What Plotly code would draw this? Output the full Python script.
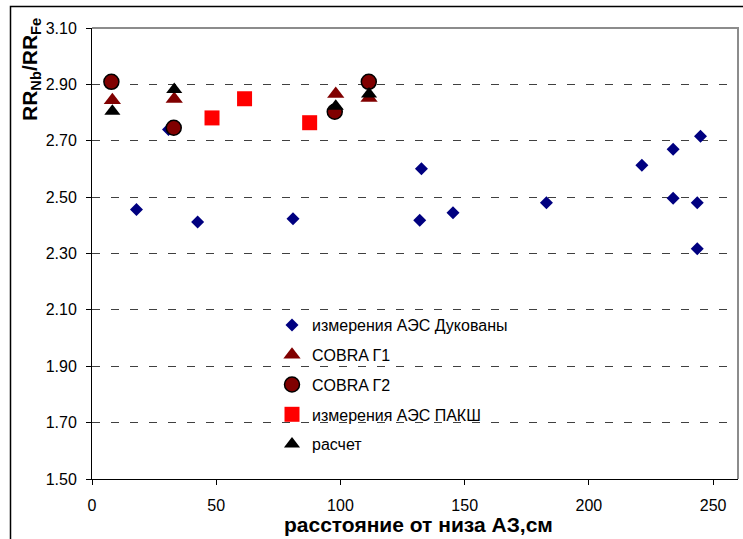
import plotly.graph_objects as go

# ---- data ----
duk_x = [17.9, 30.8, 42.5, 80.9, 132.6, 131.9, 145.3, 182.9, 221.3, 233.9, 244.9, 233.9, 243.6, 243.6]
duk_y = [2.456, 2.740, 2.412, 2.423, 2.601, 2.418, 2.445, 2.480, 2.613, 2.670, 2.716, 2.496, 2.480, 2.317]

g1_x = [8.2, 33.1, 98.1, 111.5]
g1_y = [2.844, 2.848, 2.866, 2.852]

g2_x = [7.8, 32.9, 97.7, 111.4]
g2_y = [2.909, 2.746, 2.803, 2.909]

paks_x = [48.3, 61.4, 87.6]
paks_y = [2.781, 2.849, 2.764]

calc_x = [8.2, 33.1, 98.1, 111.5]
calc_y = [2.805, 2.882, 2.822, 2.866]

names = ["измерения АЭС Дукованы", "COBRA Г1", "COBRA Г2", "измерения АЭС ПАКШ", "расчет"]
x_ticks = [0, 50, 100, 150, 200, 250]
y_ticks = [1.5, 1.7, 1.9, 2.1, 2.3, 2.5, 2.7, 2.9, 3.1]

FONT = "Arial, Liberation Sans, sans-serif"

fig = go.Figure()
fig.add_trace(go.Scatter(x=duk_x, y=duk_y, mode="markers", name=names[0], legendgroup="a",
                         marker=dict(symbol="diamond", size=10, color="#000080")))
fig.add_trace(go.Scatter(x=g1_x, y=g1_y, mode="markers", name=names[1], legendgroup="b",
                         marker=dict(symbol="triangle-up", size=15, color="#800000")))
fig.add_trace(go.Scatter(x=g2_x, y=g2_y, mode="markers", name=names[2], legendgroup="c",
                         marker=dict(symbol="circle", size=15, color="#800000",
                                     line=dict(color="#000000", width=1.5))))
fig.add_trace(go.Scatter(x=paks_x, y=paks_y, mode="markers", name=names[3], legendgroup="d",
                         marker=dict(symbol="square", size=15, color="#FF0000")))
fig.add_trace(go.Scatter(x=calc_x, y=calc_y, mode="markers", name=names[4], legendgroup="e",
                         marker=dict(symbol="triangle-up", size=14, color="#000000")))

L, R, T, B = 92, 5, 28, 60
W, H = 743, 539
pw, ph = W - L - R, H - T - B

def px_x(p):
    return (p - L) / pw

def px_y(p):
    return (H - B - p) / ph

fig.update_layout(
    width=W, height=H,
    margin=dict(l=L, r=R, t=T, b=B, pad=0),
    paper_bgcolor="white", plot_bgcolor="white",
    font=dict(family=FONT, size=16, color="#000000"),
    showlegend=True,
    legend=dict(x=px_x(272), y=px_y(308), xanchor="left", yanchor="top",
                bgcolor="rgba(0,0,0,0)", borderwidth=0,
                font=dict(family=FONT, size=16), tracegroupgap=6,
                itemsizing="trace"),
    xaxis=dict(range=[0, 260], tickvals=x_ticks, showgrid=False, zeroline=False,
               showline=True, linecolor="#000000", linewidth=1,
               ticks="outside", ticklen=5, tickcolor="#000000",
               ticklabelstandoff=7, tickfont=dict(size=16)),
    yaxis=dict(range=[1.5, 3.1], tickvals=y_ticks, tickformat=".2f", showgrid=True,
               gridcolor="#404040", gridwidth=1, griddash="8px,11px", zeroline=False,
               showline=True, linecolor="#000000", linewidth=1,
               ticks="outside", ticklen=5, tickcolor="#000000",
               ticklabelstandoff=6, tickfont=dict(size=16)),
    shapes=[
        dict(type="path", xref="paper", yref="paper",
             path="M 0,1 L 1,1 L 1,0", line=dict(color="#8c8c8c", width=2), layer="above"),
        dict(type="rect", xref="paper", yref="paper",
             x0=px_x(10.5), x1=px_x(760), y0=px_y(6.5), y1=px_y(560),
             line=dict(color="#000000", width=1.5), layer="above"),
    ],
    annotations=[
        dict(text="<b>RR<sub>Nb</sub>/RR<sub>Fe</sub></b>", textangle=-90,
             xref="paper", yref="paper", x=px_x(31), y=px_y(70),
             xanchor="center", yanchor="middle", showarrow=False,
             font=dict(family=FONT, size=21, color="#000000")),
        dict(text="<b>расстояние от низа АЗ,см</b>",
             xref="paper", yref="paper", x=px_x(418), y=px_y(524),
             xanchor="center", yanchor="middle", showarrow=False,
             font=dict(family=FONT, size=21, color="#000000")),
    ],
)

fig.write_html("out.html", config={"displayModeBar": False},
               post_script="document.body.style.margin='0';document.body.style.overflow='hidden';")
